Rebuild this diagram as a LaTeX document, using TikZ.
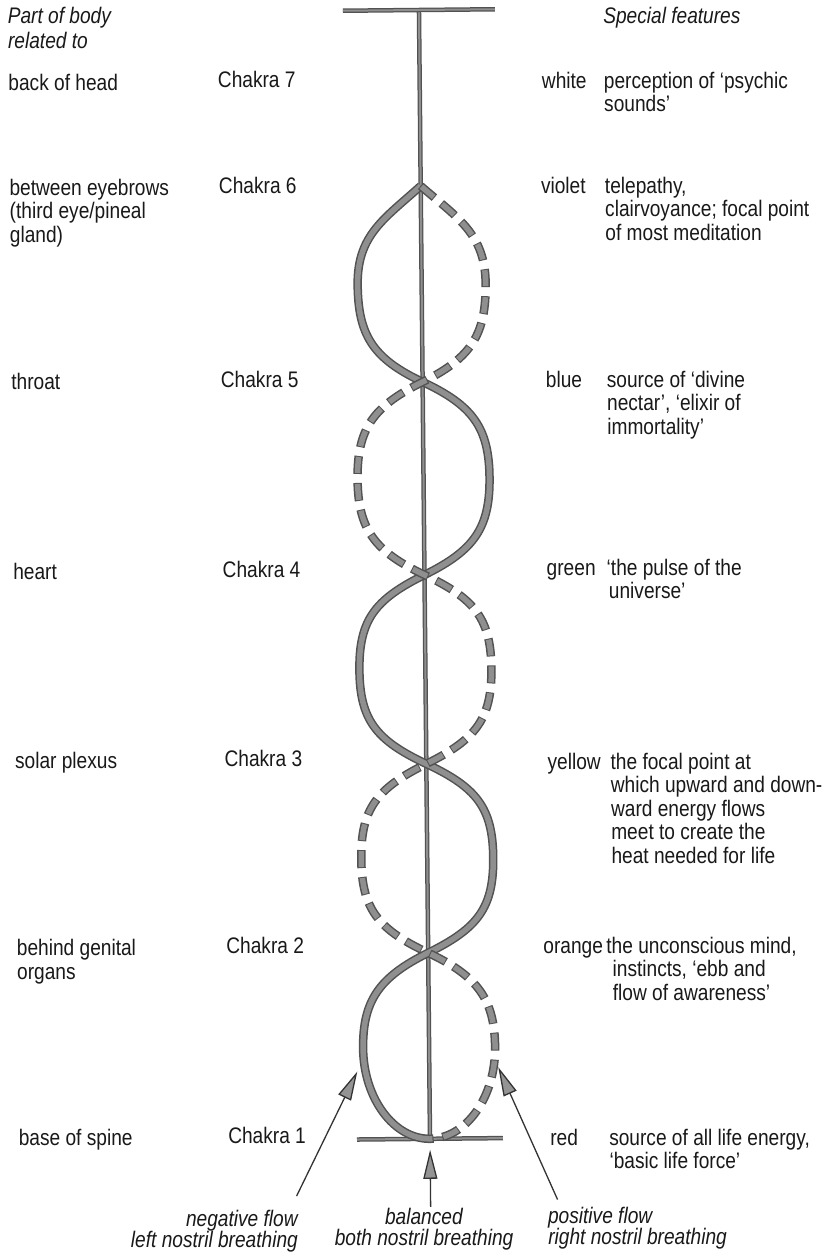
\documentclass[tikz,border=0pt]{standalone}
\usepackage{fontspec}
\setmainfont{Liberation Sans}[FakeStretch=0.85]
\usetikzlibrary{calc,arrows.meta}

\definecolor{ropeedge}{gray}{0.32}
\definecolor{ropefill}{gray}{0.56}
\definecolor{ink}{gray}{0.10}

% one half-turn of a strand: from crossing #1 to crossing #2, bulging to side #3 (-1 left, 1 right)
\newcommand\strandseg[3]{ .. controls ($(#1)+(#3*50,24)$) and ($(#1)!0.5!(#2)+(#3*66,-50)$) .. ($(#1)!0.5!(#2)+(#3*66,0)$) .. controls ($(#1)!0.5!(#2)+(#3*66,50)$) and ($(#2)+(#3*50,-24)$) .. (#2)}
% first half-turn, leaving the fork more steeply
\newcommand\strandtop[3]{ .. controls ($(#1)+(#3*36,32)$) and ($(#1)!0.5!(#2)+(#3*64,-50)$) .. ($(#1)!0.5!(#2)+(#3*64,0)$) .. controls ($(#1)!0.5!(#2)+(#3*64,50)$) and ($(#2)+(#3*50,-24)$) .. (#2)}
% last half-turn: from crossing #1 down into the base point #2, side #3
\newcommand\strandend[3]{ .. controls ($(#1)+(#3*50,24)$) and ($(#1)+(#3*66,48)$) .. ($(#1)+(#3*66,95)$) .. controls ($(#1)+(#3*66,145)$) and ($(#2)+(#3*36,0)$) .. (#2)}
% a single line of text
\newcommand\lbl[5]{\node[anchor=#4] (#1) at (#2,#3) {#5};}

\tikzset{
  every node/.style={inner sep=0pt, text=ink, font=\fontsize{22.5}{24}\selectfont},
  rope/.style={line width=8.5pt, draw=ropeedge,
    postaction={draw=ropefill, line width=5.5pt}},
  ropedash/.style={line width=8.5pt, draw=ropeedge, dash pattern=on 18pt off 9pt,
    postaction={draw=ropefill, line width=5.5pt, dash pattern=on 16pt off 11pt, dash phase=26pt}},
  pole/.style={line width=4.5pt, draw=ropeedge,
    postaction={draw=ropefill, line width=2pt}},
  flow/.style={draw=black!80, line width=1.3pt,
    -{Triangle[length=29pt, width=14pt, fill=black!42]}},
}

\begin{document}
\begin{tikzpicture}[x=1pt, y=-1pt]
\useasboundingbox (0,0) rectangle (835,1253);
\fill[white] (0,0) rectangle (835,1253);

\begin{scope}[rotate around={0.56:(419,10)}]
  % spine and end bars
  \coordinate (top) at (419,10);
  \coordinate (tl) at (343,10);
  \coordinate (tr) at (495,10);
  \coordinate (base) at (419,1139);
  \coordinate (bl) at (346,1139);
  \coordinate (br) at (492,1139);
  % crossings of the two strands
  \coordinate (c6) at (419,186);
  \coordinate (c5) at (419,382);
  \coordinate (c4) at (419,575);
  \coordinate (c3) at (419,764);
  \coordinate (c2) at (419,953);

  \draw[pole] (top) -- (base);
  \draw[pole] (tl) -- (tr);
  \draw[pole] (bl) -- (br);

  % negative (solid) and positive (dashed) strands
  \draw[rope] (c6) \strandtop{c6}{c5}{-1} \strandseg{c5}{c4}{1}
    \strandseg{c4}{c3}{-1} \strandseg{c3}{c2}{1} \strandend{c2}{base}{-1};
  \draw[ropedash] (c6) \strandtop{c6}{c5}{1} \strandseg{c5}{c4}{-1}
    \strandseg{c4}{c3}{1} \strandseg{c3}{c2}{-1} \strandend{c2}{base}{1};

  % flow arrows
  \coordinate (negtail) at (285,1195);
  \coordinate (negtip) at (347,1071);
  \coordinate (baltail) at (419,1207);
  \coordinate (baltip) at (419,1150);
  \coordinate (postail) at (546,1201);
  \coordinate (postip) at (488,1068);
  \draw[flow] (negtail) -- (negtip);
  \draw[flow] (baltail) -- (baltip);
  \draw[flow] (postail) -- (postip);

  % column headings
  \lbl{hdA}{7.5}{19}{base west}{\itshape Part of body}
  \lbl{hdB}{7.5}{44}{base west}{\itshape related to}
  \lbl{hdC}{603}{25}{base west}{\itshape Special features}

  % body parts
  \lbl{b7}{7.5}{86}{base west}{back of head}
  \lbl{b6a}{7.5}{191}{base west}{between eyebrows}
  \lbl{b6b}{7.5}{214.5}{base west}{(third eye/pineal}
  \lbl{b6c}{7.5}{238}{base west}{gland)}
  \lbl{b5}{7.5}{386}{base west}{throat}
  \lbl{b4}{7.5}{576}{base west}{heart}
  \lbl{b3}{7.5}{765}{base west}{solar plexus}
  \lbl{b2a}{7.5}{952}{base west}{behind genital}
  \lbl{b2b}{7.5}{975.5}{base west}{organs}
  \lbl{b1}{7.5}{1142}{base west}{base of spine}

  % chakra names
  \lbl{ch7}{217}{86}{base west}{Chakra 7}
  \lbl{ch6}{217}{192}{base west}{Chakra 6}
  \lbl{ch5}{217}{386}{base west}{Chakra 5}
  \lbl{ch4}{217}{576}{base west}{Chakra 4}
  \lbl{ch3}{217}{765}{base west}{Chakra 3}
  \lbl{ch2}{217}{952}{base west}{Chakra 2}
  \lbl{ch1}{217}{1142}{base west}{Chakra 1}

  % colours
  \lbl{co7}{541}{90}{base west}{white}
  \lbl{co6}{539}{195}{base west}{violet}
  \lbl{co5}{542}{389}{base west}{blue}
  \lbl{co4}{541}{577}{base west}{green}
  \lbl{co3}{540}{771}{base west}{yellow}
  \lbl{co2}{534}{955}{base west}{orange}
  \lbl{co1}{539}{1147}{base west}{red}

  % special features
  \lbl{f7a}{603}{90}{base west}{perception of ‘psychic}
  \lbl{f7b}{603}{113.5}{base west}{sounds’}
  \lbl{f6a}{603}{195}{base west}{telepathy,}
  \lbl{f6b}{603}{218.5}{base west}{clairvoyance; focal point}
  \lbl{f6c}{603}{242}{base west}{of most meditation}
  \lbl{f5a}{603}{389}{base west}{source of ‘divine}
  \lbl{f5b}{603}{412.5}{base west}{nectar’, ‘elixir of}
  \lbl{f5c}{603}{436}{base west}{immortality’}
  \lbl{f4a}{601}{577}{base west}{‘the pulse of the}
  \lbl{f4b}{603}{600.5}{base west}{universe’}
  \lbl{f3a}{603}{771}{base west}{the focal point at}
  \lbl{f3b}{603}{794.5}{base west}{which upward and down-}
  \lbl{f3c}{603}{818}{base west}{ward energy flows}
  \lbl{f3d}{603}{841.5}{base west}{meet to create the}
  \lbl{f3e}{603}{865}{base west}{heat needed for life}
  \lbl{f2a}{597}{955}{base west}{the unconscious mind,}
  \lbl{f2b}{603}{978.5}{base west}{instincts, ‘ebb and}
  \lbl{f2c}{603}{1002}{base west}{flow of awareness’}
  \lbl{f1a}{598}{1147}{base west}{source of all life energy,}
  \lbl{f1b}{598}{1170.5}{base west}{‘basic life force’}

  % breathing labels under the arrows
  \lbl{negA}{286}{1225}{base east}{\itshape negative flow}
  \lbl{negB}{286}{1246}{base east}{\itshape left nostril breathing}
  \lbl{balA}{412}{1225}{base}{\itshape balanced}
  \lbl{balB}{412}{1246}{base}{\itshape both nostril breathing}
  \lbl{posA}{536}{1225}{base west}{\itshape positive flow}
  \lbl{posB}{536}{1246}{base west}{\itshape right nostril breathing}
\end{scope}
\end{tikzpicture}
\end{document}
